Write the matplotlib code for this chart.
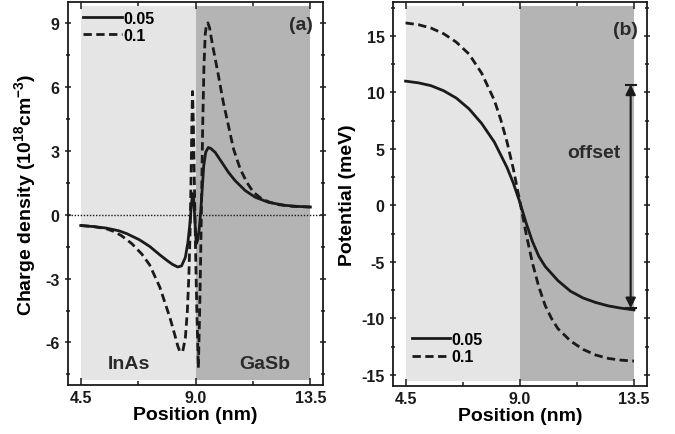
import matplotlib
matplotlib.use("Agg")
import matplotlib.pyplot as plt
from matplotlib.ticker import FixedLocator, MultipleLocator, FormatStrFormatter

plt.rcParams['font.family'] = ['Liberation Sans', 'DejaVu Sans']
plt.rcParams['font.weight'] = 'bold'
plt.rcParams['axes.unicode_minus'] = False
plt.rcParams['mathtext.fontset'] = 'custom'
plt.rcParams['mathtext.rm'] = 'Liberation Sans:bold'
plt.rcParams['mathtext.bf'] = 'Liberation Sans:bold'
plt.rcParams['mathtext.it'] = 'Liberation Sans:bold'
plt.rcParams['mathtext.default'] = 'bf'

# ---------------- data: panel (a) charge density ----------------
a_x_005 = [4.5, 5.0, 5.5, 6.0, 6.3, 6.8, 7.2, 7.6, 7.9, 8.1, 8.3, 8.45, 8.6, 8.7, 8.78,
           8.84, 8.88, 8.93, 8.98, 9.03, 9.08, 9.14, 9.2, 9.26, 9.32, 9.4, 9.5, 9.6,
           9.77, 10.03, 10.29, 10.55, 10.95, 11.34, 11.86, 12.5, 13.0, 13.5]
a_y_005 = [-0.5, -0.55, -0.62, -0.75, -0.88, -1.17, -1.48, -1.88, -2.16, -2.33, -2.45, -2.4,
           -2.0, -1.3, -0.4, 0.5, 1.0, 0.8, -0.4, -1.35, -1.2, -0.7, 0.1, 1.2, 2.3, 2.95,
           3.17, 3.12, 2.94, 2.47, 2.0, 1.61, 1.14, 0.83, 0.59, 0.45, 0.4, 0.37]

a_x_01 = [4.5, 5.0, 5.5, 5.8, 6.1, 6.5, 6.9, 7.2, 7.6, 8.0, 8.2, 8.3, 8.39, 8.5, 8.6,
          8.68, 8.74, 8.79, 8.83, 8.86, 8.88, 8.91, 8.95, 9.0, 9.05, 9.11, 9.16, 9.2,
          9.24, 9.28, 9.33, 9.38, 9.43, 9.48, 9.55, 9.62, 9.7, 9.9, 10.09, 10.29, 10.49,
          10.75, 11.01, 11.27, 11.6, 11.9, 12.26, 12.8, 13.5]
a_y_01 = [-0.5, -0.55, -0.65, -0.78, -0.98, -1.35, -1.85, -2.35, -3.4, -4.85, -5.7,
          -6.15, -6.45, -6.4, -5.8, -4.5, -2.8, -0.6, 2.2, 4.6, 5.8, 4.5, 1.8, -1.6, -4.5,
          -7.2, -4.6, -2.0, 1.0, 4.2, 7.0, 8.5, 8.95, 9.03, 8.8, 8.3, 7.78, 6.53, 5.28,
          4.19, 3.09, 2.16, 1.53, 1.06, 0.75, 0.6, 0.48, 0.4, 0.37]

# ---------------- data: panel (b) potential ----------------
b_x_005 = [4.5, 5.0, 5.5, 6.0, 6.5, 7.0, 7.5, 8.0, 8.5, 8.75, 9.0, 9.25, 9.5, 9.75,
           10.0, 10.5, 11.0, 11.5, 12.0, 12.5, 13.0, 13.5]
b_y_005 = [11.0, 10.85, 10.6, 10.15, 9.5, 8.55, 7.25, 5.6, 3.35, 1.95, 0.3, -1.55, -3.2,
           -4.5, -5.4, -6.65, -7.6, -8.2, -8.6, -8.9, -9.1, -9.25]

b_x_01 = [4.5, 5.0, 5.5, 6.0, 6.5, 7.0, 7.5, 8.0, 8.25, 8.5, 8.75, 9.0, 9.25, 9.5,
          9.75, 10.0, 10.25, 10.5, 11.0, 11.5, 12.0, 12.5, 13.0, 13.5]
b_y_01 = [16.15, 16.0, 15.7, 15.2, 14.45, 13.4, 11.7, 9.3, 7.6, 5.6, 3.2, 0.4, -2.5,
          -5.1, -7.2, -8.85, -10.0, -10.9, -12.0, -12.75, -13.25, -13.55, -13.7, -13.78]

series_labels = ['0.05', '0.1']
x_ticks = [4.5, 9.0, 13.5]
region_bounds = [4.5, 9.0, 13.5]
offset_x = 13.37
offset_top = 10.7
offset_bottom = -9.1

LIGHT = '#e5e5e5'
DARK = '#b4b4b4'
INK = '#1a1a1a'
LW = 2.0
DASH = (0, (3.0, 1.6))

fig = plt.figure(figsize=(6.75, 4.35), dpi=100)
ax1 = fig.add_axes([0.1007, 0.1126, 0.378, 0.880])
ax2 = fig.add_axes([0.582, 0.110, 0.376, 0.883])


def style(ax, ylim, ymaj, ymin_):
    ax.set_xlim(4.0, 14.0)
    ax.set_ylim(*ylim)
    ax.xaxis.set_major_locator(FixedLocator(x_ticks))
    ax.xaxis.set_minor_locator(FixedLocator([6.75, 11.25]))
    ax.xaxis.set_major_formatter(FormatStrFormatter('%.1f'))
    ax.yaxis.set_major_locator(MultipleLocator(ymaj))
    ax.yaxis.set_minor_locator(MultipleLocator(ymin_))
    ax.tick_params(which='both', top=True, right=True, direction='in',
                   labelsize=11.5, width=1.1, colors=INK)
    ax.tick_params(axis='y', which='both', left=True, direction='inout')
    ax.tick_params(which='major', length=5)
    ax.tick_params(which='minor', length=3)
    for lab in ax.get_xticklabels() + ax.get_yticklabels():
        lab.set_fontweight('bold')
    for s in ax.spines.values():
        s.set_linewidth(1.3)
        s.set_color(INK)
    ax.set_xlabel('Position (nm)', fontsize=14, fontweight='bold', labelpad=1)


# ---------------- panel (a) ----------------
style(ax1, (-8, 10), 3, 1.5)
ax1.axvspan(region_bounds[0], region_bounds[1], ymin=0.012, ymax=0.99,
            color=LIGHT, lw=0, zorder=0)
ax1.axvspan(region_bounds[1], region_bounds[2], ymin=0.012, ymax=0.99,
            color=DARK, lw=0, zorder=0)
ax1.axhline(0, color=INK, lw=1.0, ls=(0, (1, 1.2)), zorder=1)
ax1.plot(a_x_005, a_y_005, color=INK, lw=LW, label=series_labels[0], zorder=3)
ax1.plot(a_x_01, a_y_01, color=INK, lw=LW, ls=DASH, label=series_labels[1], zorder=3)
ax1.set_ylabel('Charge density (10$^{18}$cm$^{-3}$)', fontsize=14, fontweight='bold',
               labelpad=5)
ax1.text(6.4, -6.98, 'InAs', ha='center', va='center', fontsize=14, fontweight='bold',
         color='#2a2a2a')
ax1.text(11.73, -6.98, 'GaSb', ha='center', va='center', fontsize=14, fontweight='bold',
         color='#2a2a2a')
ax1.text(13.6, 8.95, '(a)', ha='right', va='center', fontsize=14, fontweight='bold',
         color='#2a2a2a')
ax1.legend(loc='upper left', frameon=False, handlelength=2.4,
           handletextpad=0.1, borderaxespad=0.0, labelspacing=0.15,
           prop={'weight': 'bold', 'size': 11.5}, bbox_to_anchor=(0.035, 0.995))

# ---------------- panel (b) ----------------
style(ax2, (-16, 18), 5, 2.5)
ax2.axvspan(region_bounds[0], region_bounds[1], ymin=0.013, ymax=0.99,
            color=LIGHT, lw=0, zorder=0)
ax2.axvspan(region_bounds[1], region_bounds[2], ymin=0.013, ymax=0.99,
            color=DARK, lw=0, zorder=0)
ax2.plot(b_x_005, b_y_005, color=INK, lw=LW, label=series_labels[0], zorder=3)
ax2.plot(b_x_01, b_y_01, color=INK, lw=LW, ls=DASH, label=series_labels[1], zorder=3)
ax2.set_ylabel('Potential (meV)', fontsize=14, fontweight='bold', labelpad=4)
ax2.text(13.65, 15.6, '(b)', ha='right', va='center', fontsize=14, fontweight='bold',
         color='#2a2a2a')
ax2.text(11.93, 4.68, 'offset', ha='center', va='center', fontsize=14, fontweight='bold',
         color='#2a2a2a')
ax2.annotate('', xy=(offset_x, offset_top), xytext=(offset_x, offset_bottom),
             arrowprops=dict(arrowstyle='<|-|>', color=INK, lw=1.5,
                             mutation_scale=15, shrinkA=0, shrinkB=0), zorder=4)
ax2.plot([offset_x - 0.2, offset_x + 0.2], [offset_top, offset_top], color=INK,
         lw=1.5, zorder=4)
ax2.plot([offset_x - 0.2, offset_x + 0.2], [offset_bottom, offset_bottom], color=INK,
         lw=1.5, zorder=4)
ax2.legend(loc='lower left', frameon=False, handlelength=2.4,
           handletextpad=0.1, borderaxespad=0.0, labelspacing=0.15,
           prop={'weight': 'bold', 'size': 11.5}, bbox_to_anchor=(0.05, 0.04))

fig.savefig('out.png', dpi=100)
